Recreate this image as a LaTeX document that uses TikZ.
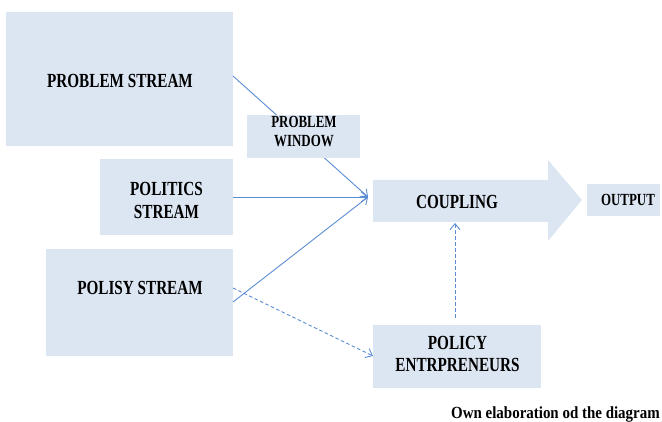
\documentclass[tikz,border=0pt]{standalone}
\usepackage{fontspec}
\setmainfont{Liberation Serif}
\newfontfamily\boxfont[FakeStretch=0.76]{Liberation Serif}
\newfontfamily\capfont[FakeStretch=0.88]{Liberation Serif}
\usetikzlibrary{arrows.meta}
\definecolor{boxfill}{HTML}{DCE6F2}
\definecolor{linkblue}{HTML}{5B8CD2}
\tikzset{
  panel/.style={rectangle, fill=boxfill, inner sep=0pt, anchor=north west},
  lbl/.style={font=\boxfont\bfseries\fontsize{20}{22}\selectfont, align=center, inner sep=0pt, text=black},
  slbl/.style={font=\boxfont\bfseries\fontsize{17}{19}\selectfont, align=center, inner sep=0pt, text=black},
  link/.style={draw=linkblue, line width=0.9pt, -{Straight Barb[length=6pt,width=10pt]}},
  dlink/.style={link, dash pattern=on 3.5pt off 2.5pt}
}
\begin{document}
\begin{tikzpicture}[x=1pt,y=-1pt]
\useasboundingbox (0,0) rectangle (662,422);
% boxes
\node[panel, minimum width=227pt, minimum height=134pt] (prob) at (6,12) {};
\node[panel, minimum width=133pt, minimum height=76pt] (pol) at (100,159) {};
\node[panel, minimum width=187pt, minimum height=107pt] (polisy) at (46,249) {};
\node[panel, minimum width=168pt, minimum height=63pt] (entr) at (373,325) {};
\node[panel, minimum width=73pt, minimum height=32pt] (out) at (587,184) {};
% coupling arrow
\fill[boxfill] (373,180) -- (548,180) -- (548,160) -- (582,200) -- (548,241) -- (548,222) -- (373,222) -- cycle;
\coordinate (cin) at (368,197);
\coordinate (cbot) at (455,223);
\coordinate (etop) at (455,318);
% connectors
\coordinate (probout) at (233,76);
\coordinate (polout) at (233,197);
\coordinate (polisyout) at (233,302);
\coordinate (polisydash) at (233,288);
\coordinate (entrin) at (373,356);
\draw[link] (probout) -- (cin);
\draw[link] (polout) -- (cin);
\draw[link] (polisyout) -- (cin);
\draw[dlink] (polisydash) -- (entrin);
\draw[dlink] (etop) -- (cbot);
% window box over the line
\node[panel, minimum width=113pt, minimum height=43pt] (win) at (247,115) {};
% texts
\node[lbl] (tprob) at (120,80.5) {PROBLEM STREAM};
\node[lbl, text width=120pt] (tpol) at (166.5,200) {POLITICS\\[1pt]STREAM};
\node[lbl] (tpolisy) at (140,287.5) {POLISY STREAM};
\node[slbl] (twin) at (304,132) {PROBLEM\\WINDOW};
\node[lbl] (tcoup) at (457,202) {COUPLING};
\node[slbl] (tout) at (628,199.5) {OUTPUT};
\node[lbl] (tentr) at (457.5,354) {POLICY\\ENTRPRENEURS};
\node[font=\capfont\bfseries\fontsize{17}{19}\selectfont, anchor=base east, inner sep=0pt] (cap) at (660,418) {Own elaboration od the diagram};
\end{tikzpicture}
\end{document}
